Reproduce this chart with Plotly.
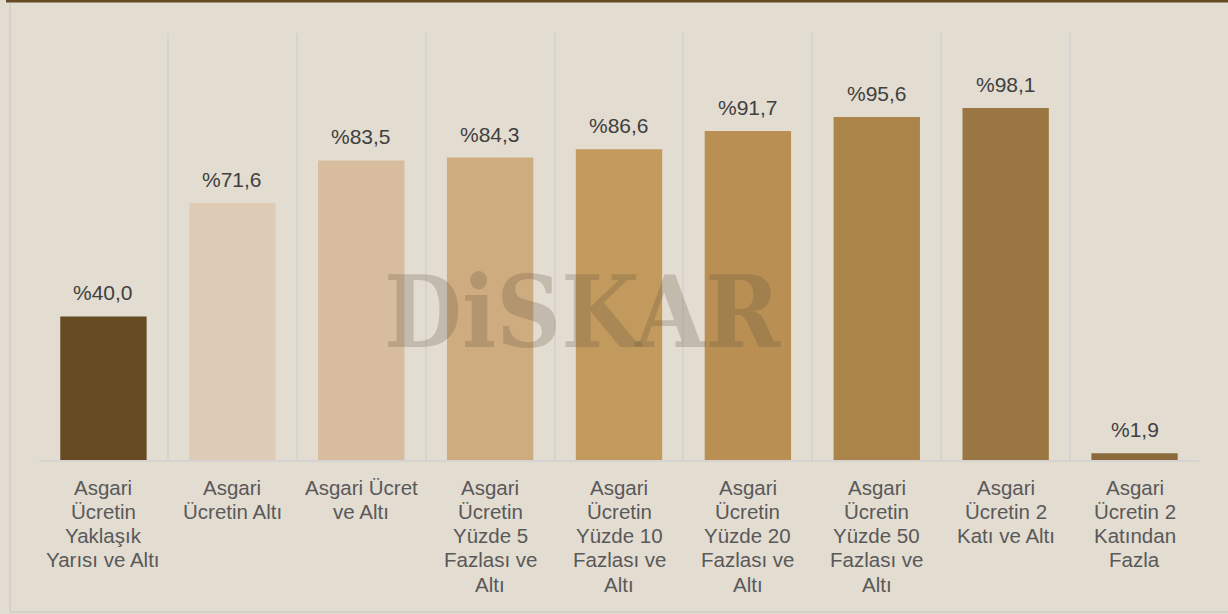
import plotly.graph_objects as go

categories = [
    "Asgari<br>Ücretin<br>Yaklaşık<br>Yarısı ve Altı",
    "Asgari<br>Ücretin Altı",
    "Asgari Ücret<br>ve Altı",
    "Asgari<br>Ücretin<br>Yüzde 5<br>Fazlası ve<br>Altı",
    "Asgari<br>Ücretin<br>Yüzde 10<br>Fazlası ve<br>Altı",
    "Asgari<br>Ücretin<br>Yüzde 20<br>Fazlası ve<br>Altı",
    "Asgari<br>Ücretin<br>Yüzde 50<br>Fazlası ve<br>Altı",
    "Asgari<br>Ücretin 2<br>Katı ve Altı",
    "Asgari<br>Ücretin 2<br>Katından<br>Fazla",
]
values = [40.0, 71.6, 83.5, 84.3, 86.6, 91.7, 95.6, 98.1, 1.9]
labels = ["%40,0", "%71,6", "%83,5", "%84,3", "%86,6", "%91,7", "%95,6", "%98,1", "%1,9"]
colors = ["#654A24", "#DFCCB7", "#D7BD9D", "#CFAB80", "#C39A5D", "#B98F53",
          "#AA8449", "#9A7643", "#8B6A3C"]

W, H = 1228, 614
L, R, T, B = 39, 29, 33, 154
pw, ph = W - L - R, H - T - B

def px_x(x):
    return (x - L) / pw

def px_y(y):
    return (H - B - y) / ph

fig = go.Figure()
fig.add_trace(go.Bar(
    x=categories, y=values, marker=dict(color=colors, line=dict(width=0)),
    hoverinfo="skip",
))

for c, v, t in zip(categories, values, labels):
    fig.add_annotation(x=c, y=v, text=t, showarrow=False, yanchor="bottom",
                       yshift=10, font=dict(family="Liberation Sans, Arial", size=21, color="#404040"))

# category labels, one annotation per line for tighter line spacing
for c in categories:
    for k, line in enumerate(c.split("<br>")):
        fig.add_annotation(x=c, y=0, text=line, showarrow=False, yanchor="middle",
                           yshift=-(27 + k * 24.25),
                           font=dict(family="Liberation Sans, Arial", size=20.5, color="#595959"))

# watermark
fig.add_annotation(xref="paper", yref="paper", x=px_x(582), y=px_y(312),
                   text="<b>DiSKAR</b>", showarrow=False,
                   font=dict(family="DejaVu Serif Condensed, DejaVu Serif", size=100,
                             color="rgba(95,85,65,0.25)"))

shapes = [
    dict(type="line", xref="paper", yref="paper", x0=px_x(6), x1=px_x(1228), y0=px_y(1), y1=px_y(1),
         line=dict(color="#654A24", width=3), layer="above"),
    dict(type="line", xref="paper", yref="paper", x0=px_x(10), x1=px_x(10), y0=px_y(3), y1=px_y(612),
         line=dict(color="#D4D0CA", width=2), layer="below"),
    dict(type="line", xref="paper", yref="paper", x0=px_x(10), x1=px_x(1228), y0=px_y(612), y1=px_y(612),
         line=dict(color="#D4D0CA", width=2), layer="below"),
]

fig.update_layout(
    width=W, height=H,
    margin=dict(l=L, r=R, t=T, b=B),
    paper_bgcolor="#E3DCD1", plot_bgcolor="#E3DCD1",
    bargap=0.33, showlegend=False,
    shapes=shapes,
    xaxis=dict(type="category", tickson="boundaries", showgrid=True, gridcolor="#D6D4D0",
               gridwidth=1.5, showline=True, linecolor="#D6D4D0", linewidth=1.5, ticks="",
               showticklabels=False, fixedrange=True),
    yaxis=dict(range=[0, 119], visible=False, showgrid=False, zeroline=False, fixedrange=True),
)

fig.write_html("out.html", config={"displayModeBar": False},
               post_script="document.body.style.margin='0';document.body.style.background='#E3DCD1';")
